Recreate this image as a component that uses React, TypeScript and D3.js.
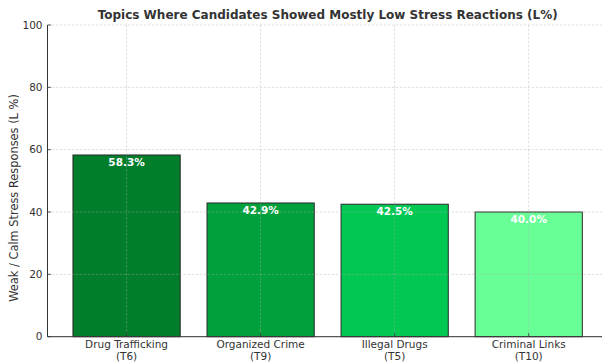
import React from "react";
import * as d3 from "d3";

const categories = ["Drug Trafficking\n(T6)", "Organized Crime\n(T9)", "Illegal Drugs\n(T5)", "Criminal Links\n(T10)"];
const values = [58.3, 42.9, 42.5, 40.0];
const colors = ["#007E2C", "#00A03C", "#00C853", "#69FF97"];
const yTicks = [0, 20, 40, 60, 80, 100];
const title = "Topics Where Candidates Showed Mostly Low Stress Reactions (L%)";
const yLabel = "Weak / Calm Stress Responses (L %)";

const W = 602, H = 362;
const left = 47.5, right = 607.8, top = 25, bottom = 336.7;

export default function App() {
  const x = d3.scaleLinear().domain([-0.59, 3.59]).range([left, right]);
  const y = d3.scaleLinear().domain([0, 100]).range([bottom, top]);
  const bw = x(0.4) - x(0);
  const font = "DejaVu Sans, sans-serif";
  return (
    <svg width={W} height={H} style={{ position: "absolute", left: 0, top: 0, background: "#fff" }} fontFamily={font}>
      <text x={(left + right) / 2} y={19} textAnchor="middle" fontSize={12} fontWeight="bold" fill="#333">{title}</text>
      {values.map((v, i) => (
        <rect key={i} x={x(i) - bw} y={y(v)} width={bw * 2} height={y(0) - y(v)} fill={colors[i]} stroke="#2a2a2a" strokeWidth={1} />
      ))}
      {yTicks.map((t) => (
        <line key={"gy" + t} x1={left} x2={right} y1={y(t)} y2={y(t)} stroke="#b0b0b0" strokeOpacity={0.5} strokeDasharray="2.5,1.5" strokeWidth={0.8} />
      ))}
      {values.map((v, i) => (
        <line key={"gx" + i} x1={x(i)} x2={x(i)} y1={top} y2={bottom} stroke="#b0b0b0" strokeOpacity={0.5} strokeDasharray="2.5,1.5" strokeWidth={0.8} />
      ))}
      {values.map((v, i) => (
        <text key={"v" + i} x={x(i)} y={y(v) + 11} textAnchor="middle" fontSize={10.5} fontWeight="bold" fill="#fff">{v.toFixed(1) + "%"}</text>
      ))}
      <line x1={left} x2={left} y1={top} y2={bottom} stroke="#333" strokeWidth={1} />
      <line x1={left} x2={right} y1={bottom} y2={bottom} stroke="#333" strokeWidth={1} />
      {yTicks.map((t) => (
        <g key={"ty" + t}>
          <line x1={left} x2={left + 3.5} y1={y(t)} y2={y(t)} stroke="#333" strokeWidth={0.8} />
          <text x={left - 5} y={y(t)} dy="0.35em" textAnchor="end" fontSize={10.5} fill="#333">{t}</text>
        </g>
      ))}
      {categories.map((c, i) => (
        <g key={"tx" + i}>
          <line x1={x(i)} x2={x(i)} y1={bottom} y2={bottom - 3.5} stroke="#333" strokeWidth={0.8} />
          {c.split("\n").map((s, j) => (
            <text key={j} x={x(i)} y={bottom + 11.5 + j * 12} textAnchor="middle" fontSize={10.5} fill="#333">{s}</text>
          ))}
        </g>
      ))}
      <text transform={`translate(17.5,198) rotate(-90)`} textAnchor="middle" fontSize={11.4} fill="#333">{yLabel}</text>
    </svg>
  );
}
